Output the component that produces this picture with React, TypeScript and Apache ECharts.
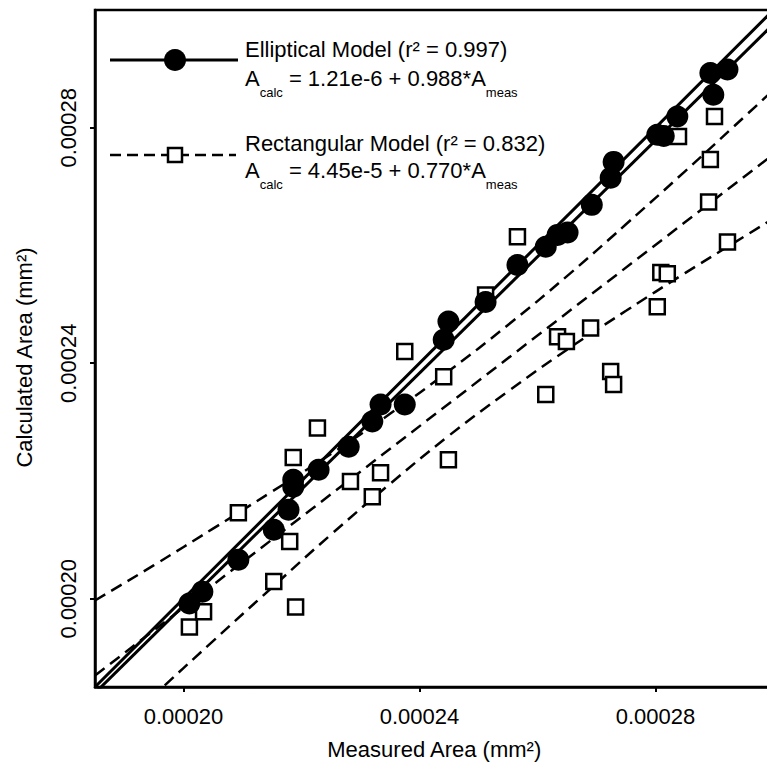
import React, { useEffect, useRef } from "react";
import * as echarts from "echarts";

// ---- Data ----
const tickValues = [0.0002, 0.00024, 0.00028];
const axisMin = 0.000185;
const axisMax = 0.0003;

// Elliptical model: measured vs calculated area (filled circles)
const ellipMeasured = [
  0.000201, 0.0002032, 0.0002093, 0.0002153, 0.0002178, 0.0002186, 0.0002186,
  0.0002229, 0.000228, 0.000232, 0.0002334, 0.0002375, 0.0002441, 0.0002449,
  0.0002512, 0.0002566, 0.0002614, 0.0002634, 0.0002651, 0.0002692, 0.0002724,
  0.0002729, 0.0002803, 0.0002814, 0.0002837, 0.0002893, 0.0002898, 0.0002922,
];
const ellipCalc = [
  0.0001992, 0.0002012, 0.0002066, 0.0002117, 0.0002151, 0.000219, 0.0002202,
  0.0002219, 0.0002258, 0.0002301, 0.000233, 0.000233, 0.000244, 0.0002471,
  0.0002504, 0.0002567, 0.0002598, 0.0002618, 0.0002622, 0.0002669, 0.0002715,
  0.0002742, 0.0002788, 0.0002786, 0.0002819, 0.0002893, 0.0002856, 0.0002899,
];

// Rectangular model: measured vs calculated area (open squares)
const rectMeasured = [
  0.000201, 0.0002034, 0.0002093, 0.0002153, 0.000218, 0.0002186, 0.000219,
  0.0002227, 0.0002283, 0.000232, 0.0002334, 0.0002375, 0.0002441, 0.0002449,
  0.0002512, 0.0002566, 0.0002614, 0.0002634, 0.0002649, 0.000269, 0.0002724,
  0.0002729, 0.0002803, 0.0002809, 0.000282, 0.0002839, 0.000289, 0.0002893,
  0.00029, 0.0002922,
];
const rectCalc = [
  0.0001952, 0.0001978, 0.0002146, 0.0002029, 0.0002097, 0.000224, 0.0001986,
  0.000229, 0.0002199, 0.0002173, 0.0002214, 0.000242, 0.0002377, 0.0002236,
  0.0002516, 0.0002615, 0.0002347, 0.0002445, 0.0002437, 0.000246, 0.0002386,
  0.0002364, 0.0002496, 0.0002554, 0.0002552, 0.0002785, 0.0002674, 0.0002746,
  0.0002819, 0.0002606,
];

// Fitted equations stated in the legend
const ellipFit = { intercept: 1.21e-6, slope: 0.988 };
const rectFit = { intercept: 4.45e-5, slope: 0.77 };
const lineEnds = [axisMin, axisMax];

// 95% confidence band of the rectangular fit (dashed curves)
const bandX = [
  0.000185, 0.000195, 0.000205, 0.000215, 0.000225, 0.000235, 0.000245,
  0.000255, 0.000265, 0.000275, 0.000285, 0.000295, 0.000305,
];
const rectUpper = [
  0.0001997, 0.0002057, 0.0002119, 0.0002182, 0.0002246, 0.0002314, 0.0002387,
  0.0002465, 0.0002548, 0.0002636, 0.0002726, 0.0002818, 0.0002911,
];
const rectLower = [
  0.0001743, 0.0001836, 0.0001928, 0.0002019, 0.0002109, 0.0002195, 0.0002277,
  0.0002352, 0.0002423, 0.0002489, 0.0002553, 0.0002615, 0.0002677,
];

const FONT = "'Liberation Sans', Arial, Helvetica, sans-serif";

export default function App() {
  const ref = useRef<HTMLDivElement>(null);

  useEffect(() => {
    if (!ref.current) return;
    const chart = echarts.init(ref.current, undefined, { renderer: "svg" });

    const fitLine = (fit: { intercept: number; slope: number }) =>
      lineEnds.map((x) => [x, fit.intercept + fit.slope * x]);

    const axisCommon = {
      type: "value" as const,
      min: axisMin,
      max: axisMax,
      splitLine: { show: false },
      axisLine: { show: true, onZero: false, lineStyle: { color: "#000", width: 2.5 } },
      axisTick: {
        show: true,
        customValues: tickValues,
        length: 5,
        lineStyle: { color: "#000", width: 2 },
      },
      nameLocation: "middle" as const,
    };

    const subRich = {
      a: { fontSize: 22, lineHeight: 24, verticalAlign: "top", fontFamily: FONT, color: "#000" },
      s: {
        fontSize: 13,
        lineHeight: 13,
        padding: [18, 0, 0, 0],
        verticalAlign: "top",
        fontFamily: FONT,
        color: "#000",
      },
    };

    const legendText = (x: number, y: number, text: string) => ({
      type: "text",
      x,
      y,
      z: 100,
      style: {
        text,
        fontSize: 22,
        lineHeight: 24,
        fontFamily: FONT,
        fill: "#000",
        verticalAlign: "top",
      },
    });
    const eqText = (x: number, y: number, text: string) => ({
      type: "text",
      x,
      y,
      z: 100,
      style: {
        text,
        fontFamily: FONT,
        fill: "#000",
        verticalAlign: "top",
        rich: subRich,
      },
    });

    chart.setOption({
      animation: false,
      backgroundColor: "#fff",
      grid: {
        left: 95,
        top: 10,
        width: 678.5,
        height: 677,
        show: true,
        borderColor: "#000",
        borderWidth: 2.5,
        containLabel: false,
        outerBoundsMode: "none",
      },
      xAxis: {
        ...axisCommon,
        position: "bottom",
        axisLabel: {
          customValues: tickValues,
          formatter: (v: number) => v.toFixed(5),
          fontSize: 22,
          fontFamily: FONT,
          color: "#000",
          margin: 18,
        },
        name: "Measured Area (mm²)",
        nameGap: 51,
        nameTextStyle: { fontSize: 22, fontFamily: FONT, color: "#000" },
      },
      yAxis: {
        ...axisCommon,
        position: "left",
        axisLabel: {
          customValues: tickValues,
          formatter: (v: number) => v.toFixed(5),
          fontSize: 22,
          fontFamily: FONT,
          color: "#000",
          rotate: 90,
          margin: 16,
        },
        name: "Calculated Area (mm²)",
        nameGap: 60,
        nameTextStyle: { fontSize: 22, fontFamily: FONT, color: "#000", padding: [0, 18, 0, 0] },
      },
      graphic: [
        {
          type: "line",
          z: 100,
          shape: { x1: 110, y1: 60, x2: 238, y2: 60 },
          style: { stroke: "#000", lineWidth: 3 },
        },
        {
          type: "circle",
          z: 101,
          shape: { cx: 175, cy: 60, r: 11 },
          style: { fill: "#000" },
        },
        {
          type: "line",
          z: 100,
          shape: { x1: 110, y1: 155, x2: 236, y2: 155 },
          style: { stroke: "#000", lineWidth: 2.5, lineDash: [11, 6] },
        },
        {
          type: "rect",
          z: 101,
          shape: { x: 168, y: 148, width: 14, height: 14 },
          style: { fill: "#fff", stroke: "#000", lineWidth: 2.5 },
        },
        legendText(245, 37.5, "Elliptical Model (r² = 0.997)"),
        eqText(245, 67.5, "{a|A}{s|calc}{a| = 1.21e-6 + 0.988*A}{s|meas}"),
        legendText(245, 131.5, "Rectangular Model (r² = 0.832)"),
        eqText(245, 159.5, "{a|A}{s|calc}{a| = 4.45e-5 + 0.770*A}{s|meas}"),
      ],
      series: [
        {
          name: "Identity",
          type: "line",
          data: lineEnds.map((x) => [x, x]),
          symbol: "none",
          lineStyle: { color: "#000", width: 3 },
          z: 1,
        },
        {
          name: "Elliptical fit",
          type: "line",
          data: fitLine(ellipFit),
          symbol: "none",
          lineStyle: { color: "#000", width: 3 },
          z: 1,
        },
        {
          name: "Rectangular fit",
          type: "line",
          data: fitLine(rectFit),
          symbol: "none",
          lineStyle: { color: "#000", width: 2.5, type: [12, 7] },
          z: 1,
        },
        {
          name: "Rect upper",
          type: "line",
          data: bandX.map((x, i) => [x, rectUpper[i]]),
          symbol: "none",
          smooth: true,
          lineStyle: { color: "#000", width: 2.5, type: [12, 7] },
          z: 1,
        },
        {
          name: "Rect lower",
          type: "line",
          data: bandX.map((x, i) => [x, rectLower[i]]),
          symbol: "none",
          smooth: true,
          lineStyle: { color: "#000", width: 2.5, type: [12, 7] },
          z: 1,
        },
        {
          name: "Rectangular Model",
          type: "scatter",
          data: rectMeasured.map((x, i) => [x, rectCalc[i]]),
          symbol: "rect",
          symbolSize: 15,
          itemStyle: { color: "#fff", borderColor: "#000", borderWidth: 2.5, opacity: 1 },
          z: 2,
        },
        {
          name: "Elliptical Model",
          type: "scatter",
          data: ellipMeasured.map((x, i) => [x, ellipCalc[i]]),
          symbol: "circle",
          symbolSize: 22,
          itemStyle: { color: "#000", opacity: 1 },
          z: 3,
        },
      ],
    });

    return () => chart.dispose();
  }, []);

  return (
    <div
      ref={ref}
      style={{ position: "fixed", left: 0, top: 0, width: 767, height: 762, background: "#fff" }}
    />
  );
}
